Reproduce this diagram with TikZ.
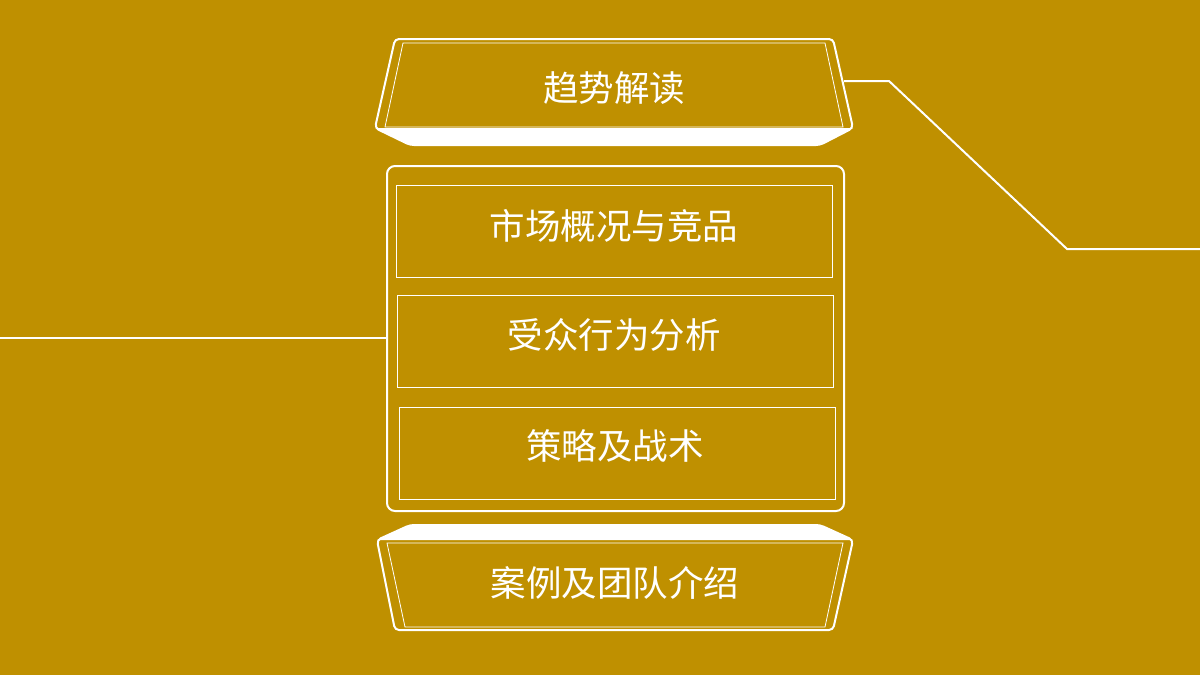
\documentclass[tikz,border=0pt]{standalone}
\usepackage{fontspec}
\newfontfamily\cjk{Noto Sans CJK SC}
\usepackage{tikz}
\usetikzlibrary{positioning}
\definecolor{gold}{RGB}{191,144,0}
\tikzset{%
    item/.style={draw=white,line width=0.8pt,minimum width=436pt,minimum height=92pt,inner sep=0pt},
    lbl/.style={text=white,font=\cjk\fontsize{35.5}{40}\selectfont}
}

\begin{document}
\begin{tikzpicture}[
            x=1pt,y=-1pt,
            edge/.style={white,line width=2pt},
            thin/.style={white,line width=0.8pt}
            ]
            \fill[gold] (0,0) rectangle (1200,675);
            \useasboundingbox (0,0) rectangle (1200,675);

            \fill[white] (375,128) -- (853,128) -- (820,145) -- (410,145) -- cycle;
            \draw[edge,rounded corners=4pt] (375,128) -- (395,39) -- (833,39) -- (853,128) -- (820,145) -- (410,145) -- cycle;
            \draw[thin] (403,43) -- (825,43) -- (843,127) -- (385,127) -- cycle;
            \node[lbl] (trend) at (614,88) {趋势解读};

            \node[draw=white,line width=2pt,rounded corners=8pt,minimum width=457pt,minimum height=345pt] (mid) at (615.5,338.5) {};
            \node[item] (b1) at (614,231) {};
            \node[item] (b2) at (615,341.5) {};
            \node[item] (b3) at (617,453.5) {};
            \node[lbl] (t1) at (614,226) {市场概况与竞品};
            \node[lbl] (t2) at (614,335) {受众行为分析};
            \node[lbl] (t3) at (615,446) {策略及战术};

            \fill[white] (410,525) -- (820,525) -- (853,540) -- (377,540) -- cycle;
            \draw[edge,rounded corners=4pt] (410,525) -- (820,525) -- (853,540) -- (833,630) -- (395,630) -- (377,540) -- cycle;
            \draw[thin] (387,543) -- (843,543) -- (825,627) -- (405,627) -- cycle;
            \node[lbl] (team) at (615,583) {案例及团队介绍};

            \coordinate (lend) at (0,338);
            \coordinate (topR) at (844,81);
            \coordinate (rend) at (1200,249);
            \draw[edge] (lend) -- (mid.west |- lend);
            \draw[edge] (topR) -- (889,81) -- (1067,249) -- (rend);
        \end{tikzpicture}
\end{document}
